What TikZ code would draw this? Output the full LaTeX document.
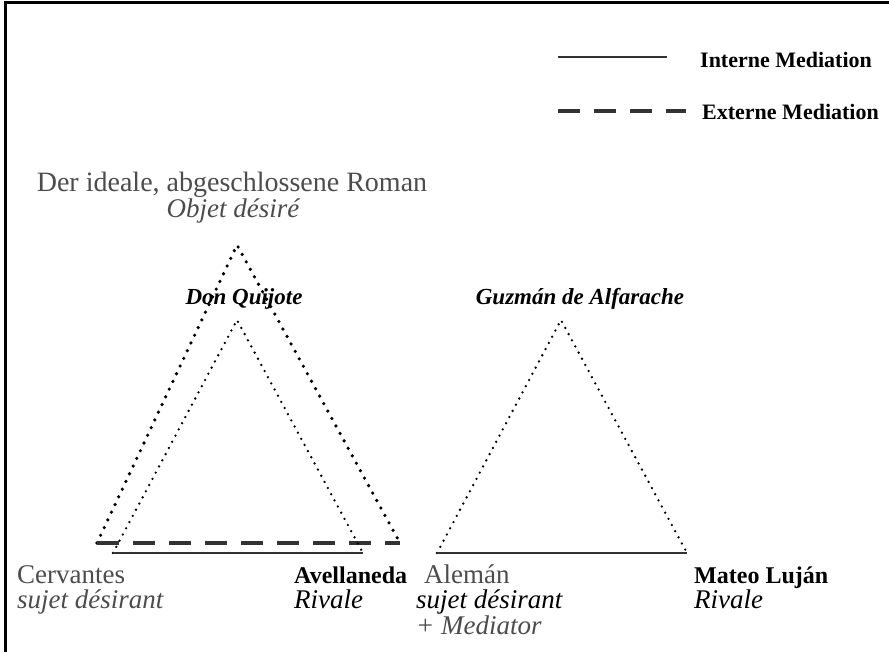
\documentclass[tikz,border=0pt]{standalone}
\usepackage{fontspec}
\setmainfont{Liberation Serif}
\tikzset{
  lbl/.style={inner sep=0pt,anchor=base west,font=\fontsize{27}{30}\selectfont},
  ital/.style={font=\fontsize{27}{30}\selectfont\itshape},
  grey/.style={text=black!70},
  person/.style={inner sep=0pt,anchor=base west,font=\fontsize{24}{28}\selectfont\bfseries},
  book/.style={inner sep=0pt,anchor=base,font=\fontsize{23}{27}\selectfont\bfseries\itshape},
  leg/.style={inner sep=0pt,anchor=base west,font=\fontsize{22}{26}\selectfont\bfseries},
  bigdots/.style={line width=3.6pt,line cap=round,dash pattern=on 0pt off 8.5pt},
  smalldots/.style={line width=2.6pt,line cap=round,dash pattern=on 0pt off 7pt},
  interne/.style={line width=1.4pt,black!80},
  externe/.style={line width=4pt,black!80,dash pattern=on 22pt off 14pt}
}
\begin{document}
\begin{tikzpicture}[x=1pt,y=-1pt]
\useasboundingbox (0,0) rectangle (889,652);
\draw[line width=3pt] (5,652) -- (5,3) -- (889,3);

% legend
\coordinate (i1) at (558,57); \coordinate (i2) at (667,57);
\coordinate (e1) at (558,111); \coordinate (e2) at (686,111);
\draw[interne] (i1) -- (i2);
\draw[externe] (e1) -- (e2);
\node[leg] (lint) at (700,68) {Interne Mediation};
\node[leg] (lext) at (702,120) {Externe Mediation};

% corners
\coordinate (roman) at (237,245);
\coordinate (r1) at (97,543); \coordinate (r2) at (400,543);
\coordinate (quijote) at (237,320);
\coordinate (cerv) at (113,553); \coordinate (avel) at (363,553);
\coordinate (guzman) at (561,320);
\coordinate (alem) at (437,553); \coordinate (mateo) at (687,553);

\draw[bigdots] (r1) -- (roman) -- (r2);
\draw[externe] (r1) -- (r2);
\draw[smalldots] (cerv) -- (quijote) -- (avel);
\draw[interne] (cerv) -- (avel);
\draw[smalldots] (alem) -- (guzman) -- (mateo);
\draw[interne] (alem) -- (mateo);

% texts
\node[lbl,grey,anchor=base,font=\fontsize{28}{30}\selectfont] (tideal) at (232,192) {Der ideale, abgeschlossene Roman};
\node[lbl,ital,grey,anchor=base] (tobjet) at (233,218) {Objet désiré};
\node[book] (tquijote) at (244,305) {Don Quijote};
\node[book] (tguzman) at (580,305) {Guzmán de Alfarache};
\node[lbl,grey] (tcerv) at (17,583) {Cervantes};
\node[lbl,ital,grey] (tcervs) at (17,608) {sujet désirant};
\node[person] (tavel) at (294,583) {Avellaneda};
\node[lbl,ital] (tavelr) at (294,608) {Rivale};
\node[lbl,grey] (talem) at (424,583) {Alemán};
\node[lbl,ital] (talems) at (416,608) {sujet désirant};
\node[lbl,ital,grey] (talemm) at (416,634) {+ Mediator};
\node[person] (tmateo) at (694,583) {Mateo Luján};
\node[lbl,ital] (tmateor) at (694,608) {Rivale};
\end{tikzpicture}
\end{document}
